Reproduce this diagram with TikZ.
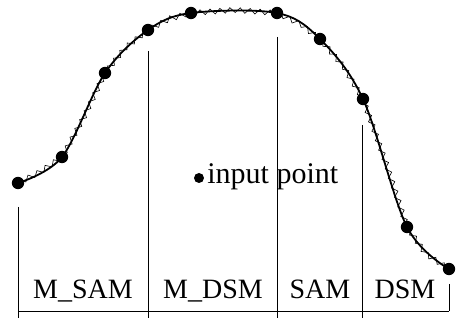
\documentclass[tikz,border=0pt]{standalone}
\usepackage{fontspec}
\setmainfont{Liberation Serif}
\usepackage{tikz}
\usetikzlibrary{positioning,decorations.pathmorphing}
\tikzset{
    sample/.style={circle, fill=black, inner sep=0pt, minimum size=6.2pt},
    legenddot/.style={circle, fill=black, inner sep=0pt, minimum size=5pt},
    profile/.style={line width=0.9pt, line join=round},
    jitter/.style={line width=0.3pt, decorate, decoration={zigzag, amplitude=1.3pt, segment length=5pt}},
    divider/.style={line width=0.45pt},
    region/.style={font=\fontsize{14}{16}\selectfont, anchor=base, inner sep=0pt}
}

\begin{document}
\begin{tikzpicture}[x=0.5pt, y=-0.5pt]
    \useasboundingbox (0,0) rectangle (456,320);
    % sampled points on the curve
    \node[sample] (p1) at (18,183) {};
    \node[sample] (p2) at (62,157) {};
    \node[sample] (p3) at (105,73) {};
    \node[sample] (p4) at (148,30) {};
    \node[sample] (p5) at (191,13) {};
    \node[sample] (p6) at (277,13) {};
    \node[sample] (p7) at (320,39) {};
    \node[sample] (p8) at (363,99) {};
    \node[sample] (p9) at (407,227) {};
    \node[sample] (p10) at (449,269) {};
    \draw[profile] plot[smooth, tension=0.55] coordinates {(p1.center) (p2.center) (p3.center) (p4.center) (p5.center) (p6.center) (p7.center) (p8.center) (p9.center) (p10.center)};
    % approximation between the samples
    \coordinate (m1) at (40,172);
    \coordinate (m2) at (84,117);
    \coordinate (m3) at (125,48);
    \coordinate (m4) at (169,19);
    \coordinate (m5) at (234,10);
    \coordinate (m6) at (300,24);
    \coordinate (m7) at (343,66);
    \coordinate (m8) at (386,163);
    \coordinate (m9) at (426,254);
    \draw[jitter] (p1.center) -- (m1) -- (p2.center) -- (m2) -- (p3.center) -- (m3) -- (p4.center) -- (m4) -- (p5.center) -- (m5) -- (p6.center) -- (m6) -- (p7.center) -- (m7) -- (p8.center) -- (m8) -- (p9.center) -- (m9) -- (p10.center);
    % region dividers
    \coordinate (t1) at (18,207);  \coordinate (b1) at (18,318);
    \coordinate (t2) at (148,51);  \coordinate (b2) at (148,318);
    \coordinate (t3) at (277,37);  \coordinate (b3) at (277,318);
    \coordinate (t4) at (362,125); \coordinate (b4) at (362,318);
    \coordinate (t5) at (449,284); \coordinate (b5) at (449,311);
    \foreach \i in {1,...,5}
        \draw[divider] (t\i) -- (b\i);
    \coordinate (axisl) at (18,311);
    \draw[divider] (axisl) -- (b5);
    \node[region] (msam) at (83,299) {M\_SAM};
    \node[region] (mdsm) at (213,299) {M\_DSM};
    \node[region] (sam) at (320,299) {SAM};
    \node[region] (dsm) at (405,299) {DSM};
    % legend
    \node[legenddot] (key) at (199,178) {};
    \node[region, anchor=base west, font=\fontsize{15}{17}\selectfont] (keytext) at (207,184) {input point};
\end{tikzpicture}
\end{document}
